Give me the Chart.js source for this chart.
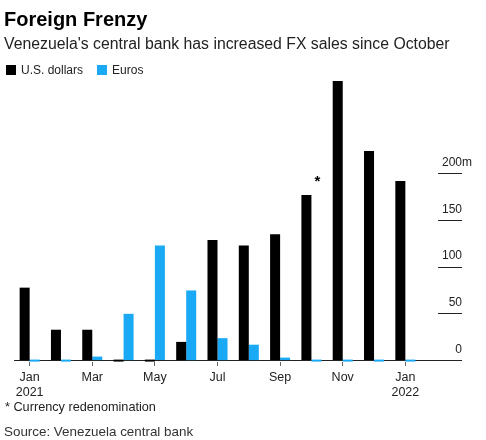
<!DOCTYPE html>
<html>
<head>
<meta charset="utf-8">
<script src="https://cdn.jsdelivr.net/npm/chart.js@4/dist/chart.umd.min.js"></script>
<style>
  body { margin: 0; background: #fff; }
  #wrap { position: relative; width: 486px; height: 440px; font-family: "Liberation Sans", Arial, sans-serif; color: #111; }
  #wrap canvas { position: absolute; left: 0; top: 0; }
  .txt { position: absolute; left: 4px; white-space: nowrap; }
  #title { top: 8px; font-size: 20px; font-weight: bold; color: #000; }
  #subtitle { top: 35px; font-size: 15.8px; color: #222; }
  #legend { top: 63px; left: 6px; font-size: 12px; color: #222; }
  #legend span.item { margin-right: 14px; }
  #legend span.box { display: inline-block; width: 10px; height: 10px; margin-right: 5px; vertical-align: -1px; }
  #note { top: 400px; left: 5px; font-size: 12.7px; color: #222; }
  #source { top: 424px; font-size: 13.4px; color: #333; }
</style>
</head>
<body>
<div id="wrap">
  <canvas id="fxChart"></canvas>
  <div class="txt" id="title">Foreign Frenzy</div>
  <div class="txt" id="subtitle">Venezuela's central bank has increased FX sales since October</div>
  <div class="txt" id="legend"></div>
  <div class="txt" id="note">* Currency redenomination</div>
  <div class="txt" id="source">Source: Venezuela central bank</div>
</div>
<script>
// monthly FX sales, millions
var months = ['Jan 2021', 'Feb 2021', 'Mar 2021', 'Apr 2021', 'May 2021', 'Jun 2021', 'Jul 2021',
              'Aug 2021', 'Sep 2021', 'Oct 2021', 'Nov 2021', 'Dec 2021', 'Jan 2022'];
var usDollars = [78, 33, 33, 0, 0, 20, 129, 123, 135, 177, 299, 224, 192];
var euros = [0, 0, 4.3, 50, 123, 75, 24, 17, 3.2, 0, 0, 0, 0];
var xTickLabels = [['Jan', '2021'], '', 'Mar', '', 'May', '', 'Jul', '', 'Sep', '', 'Nov', '', ['Jan', '2022']];
var yTickValues = [0, 50, 100, 150, 200];
var noteMonth = 'Oct 2021';

var seriesNames = ['U.S. dollars', 'Euros'];
var seriesColors = ['#000000', '#1aa9f5'];

// legend as html
var legendEl = document.getElementById('legend');
seriesNames.forEach(function (name, i) {
    legendEl.innerHTML += '<span class="item"><span class="box" style="background:' + seriesColors[i] + '"></span>' + name + '</span>';
});

// asterisk over the redenomination month
var notePlugin = {
    id: 'noteMark',
    afterDatasetsDraw: function (chart) {
        var idx = months.indexOf(noteMonth);
        var bar = chart.getDatasetMeta(1).data[idx];
        var y = chart.scales.y.getPixelForValue(usDollars[idx]);
        var c = chart.ctx;
        c.save();
        c.fillStyle = '#000';
        c.font = 'bold 15px "Liberation Sans", Arial, sans-serif';
        c.textAlign = 'center';
        c.textBaseline = 'middle';
        c.fillText('*', bar.x + 1, y - 13);
        c.restore();
    }
};

var ctx = document.getElementById('fxChart').getContext('2d');

var fxChart = new Chart(ctx, {
    type: 'bar',
    data: {
        labels: months,
        datasets: [{
            label: seriesNames[0],
            data: usDollars,
            backgroundColor: seriesColors[0]
        }, {
            label: seriesNames[1],
            data: euros,
            backgroundColor: seriesColors[1]
        }]
    },
    options: {
        responsive: true,
        maintainAspectRatio: false,
        animation: false,
        barPercentage: 1,
        categoryPercentage: 0.64,
        minBarLength: 2,
        layout: {
            padding: { left: 14, right: 24, top: 80, bottom: 36 }
        },
        plugins: {
            legend: { display: false },
            tooltip: { enabled: false }
        },
        scales: {
            x: {
                offset: true,
                border: { display: false },
                grid: {
                    offset: false,
                    drawOnChartArea: false,
                    drawTicks: true,
                    tickLength: 4,
                    tickColor: function (c) { return c.index % 2 === 0 ? '#666' : 'rgba(0,0,0,0)'; }
                },
                ticks: {
                    autoSkip: false,
                    maxRotation: 0,
                    padding: 4,
                    color: '#222',
                    font: { family: '"Liberation Sans", Arial, sans-serif', size: 12.5 },
                    callback: function (v, i) { return xTickLabels[i]; }
                }
            },
            y: {
                position: 'right',
                min: -1.5,
                max: 300,
                border: { display: false },
                afterBuildTicks: function (scale) {
                    scale.ticks = yTickValues.map(function (v) { return { value: v }; });
                },
                afterFit: function (scale) {
                    scale.width = 41;
                },
                grid: {
                    drawTicks: true,
                    tickLength: 41,
                    color: function (c) { return c.tick && c.tick.value === 0 ? '#222' : 'rgba(0,0,0,0)'; },
                    tickColor: '#222',
                    tickBorderDash: function (c) { return c.tick && c.tick.value === 0 ? [] : [0, 17, 24, 0]; }
                },
                ticks: {
                    mirror: true,
                    padding: 51,
                    labelOffset: -11,
                    color: '#222',
                    font: { family: '"Liberation Sans", Arial, sans-serif', size: 12 },
                    // numbers line up with the tick lines, the unit hangs past them
                    callback: function (v) { return v === 200 ? '200m' : v + '   '; }
                }
            }
        }
    },
    plugins: [notePlugin]
});
</script>
</body>
</html>
